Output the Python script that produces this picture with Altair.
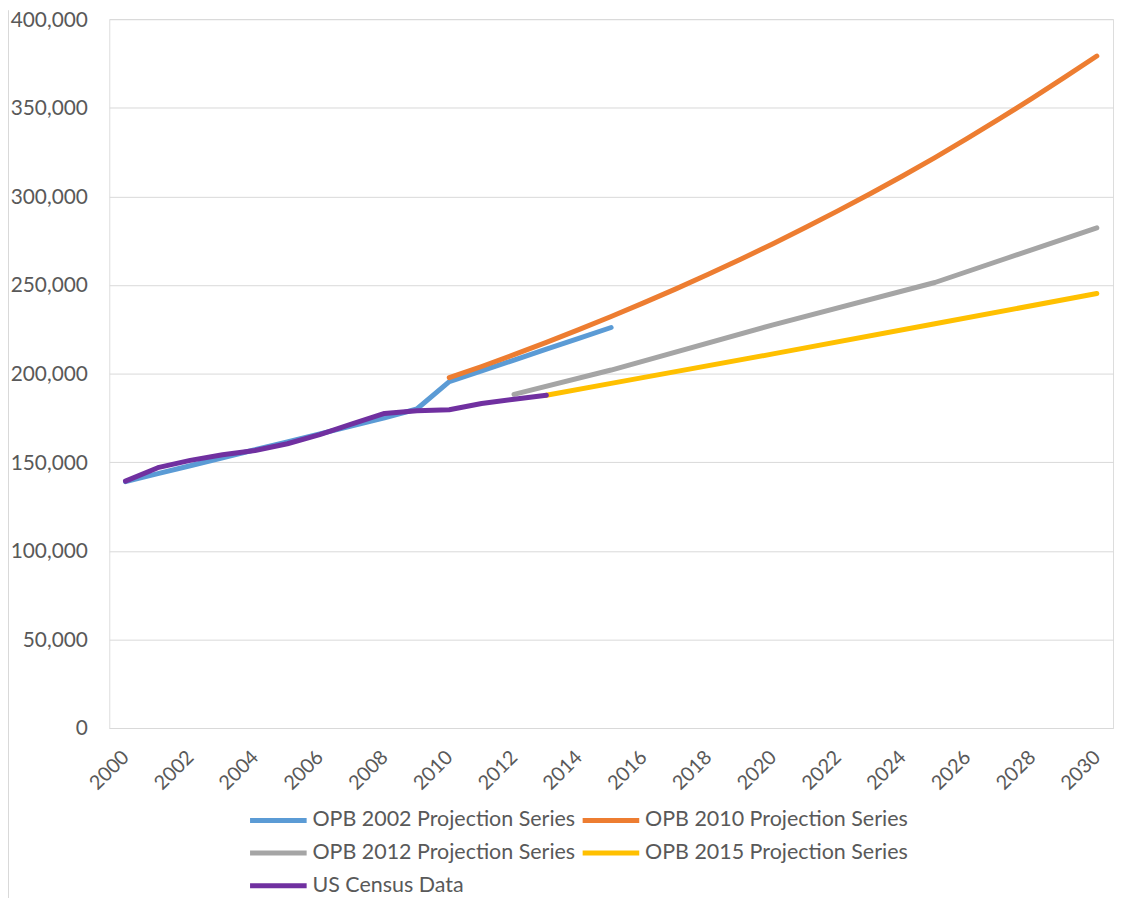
import altair as alt
import pandas as pd

# ---- data ----
census_years = list(range(2000, 2014))
census_vals = [139300, 146900, 151000, 154200, 156600, 160400, 165600, 171600,
               177500, 179000, 179600, 183100, 185500, 187800]

opb2002_years = list(range(2000, 2016))
opb2002_vals = [139000, 143500, 148000, 152500, 157000, 161500, 166000, 170500,
                175000, 180000, 195400, 201500, 207600, 213800, 219900, 226000]

opb2010_years = list(range(2010, 2031))
opb2010_vals = [197700, 204000, 210700, 217600, 224800, 232200, 239900, 247800,
                256000, 264500, 273300, 282400, 291800, 301500, 311500, 321900,
                332700, 343800, 355300, 367100, 379200]

opb2012_years = [2012, 2015, 2020, 2025, 2030]
opb2012_vals = [188300, 202000, 227500, 251400, 282200]

opb2015_years = [2013, 2015, 2020, 2025, 2030]
opb2015_vals = [187800, 194500, 211100, 228100, 245200]

series_names = ["OPB 2002 Projection Series", "OPB 2010 Projection Series",
                "OPB 2012 Projection Series", "OPB 2015 Projection Series",
                "US Census Data"]
series_colors = ["#5B9BD5", "#ED7D31", "#A5A5A5", "#FFC000", "#7030A0"]

x_ticks = list(range(2000, 2031, 2))
y_ticks = list(range(0, 400001, 50000))

rows = []
for name, ys, vs in [
    (series_names[0], opb2002_years, opb2002_vals),
    (series_names[1], opb2010_years, opb2010_vals),
    (series_names[2], opb2012_years, opb2012_vals),
    (series_names[3], opb2015_years, opb2015_vals),
    (series_names[4], census_years, census_vals),
]:
    for y, v in zip(ys, vs):
        rows.append({"series": name, "year": y, "value": v})
df = pd.DataFrame(rows)

FONT = "Lato"
TXT = "#595959"
GRID = "#d9d9d9"

lines = alt.Chart(df).mark_line(strokeWidth=5, strokeCap="round", strokeJoin="round").encode(
    x=alt.X("year:Q",
            scale=alt.Scale(domain=[1999.5, 2030.5], nice=False, zero=False),
            axis=alt.Axis(values=x_ticks, format="d", title=None, grid=False,
                          ticks=False, domain=True, domainColor=GRID, domainWidth=1,
                          labelAngle=-45, labelAlign="right", labelBaseline="middle",
                          labelPadding=26, labelFont=FONT, labelFontSize=20,
                          labelColor=TXT)),
    y=alt.Y("value:Q",
            scale=alt.Scale(domain=[0, 400000], nice=False),
            axis=alt.Axis(values=y_ticks, format=",d", title=None, grid=True,
                          gridColor=GRID, gridWidth=1, ticks=False, domain=False,
                          labelPadding=22, labelOffset=1, labelFont=FONT,
                          labelFontSize=21, labelColor=TXT)),
    color=alt.Color("series:N",
                    scale=alt.Scale(domain=series_names, range=series_colors),
                    legend=alt.Legend(title=None, orient="none", legendX=182, legendY=796,
                                      direction="horizontal", columns=2,
                                      symbolType="M-8.5,0H1", symbolSize=144,
                                      symbolStrokeWidth=5, labelFont=FONT,
                                      labelFontSize=21.6, labelColor=TXT, labelLimit=0,
                                      labelOffset=1, columnPadding=-4, rowPadding=10,
                                      padding=0)),
    order=alt.Order("year:Q"),
)

border = alt.Chart(pd.DataFrame({"k": [0]})).mark_rule(color=GRID, strokeWidth=1).encode(
    x=alt.value(-101.5), y=alt.value(-9), y2=alt.value(890)
)

chart = alt.layer(lines, border).properties(
    width=1011, height=714,
    autosize=alt.AutoSizeParams(type="none"),
    padding={"left": 102, "top": 8, "right": 2, "bottom": 168},
).configure_view(stroke=None).configure(background="white")

chart.save("out.html", embed_options={"renderer": "svg", "actions": False})
